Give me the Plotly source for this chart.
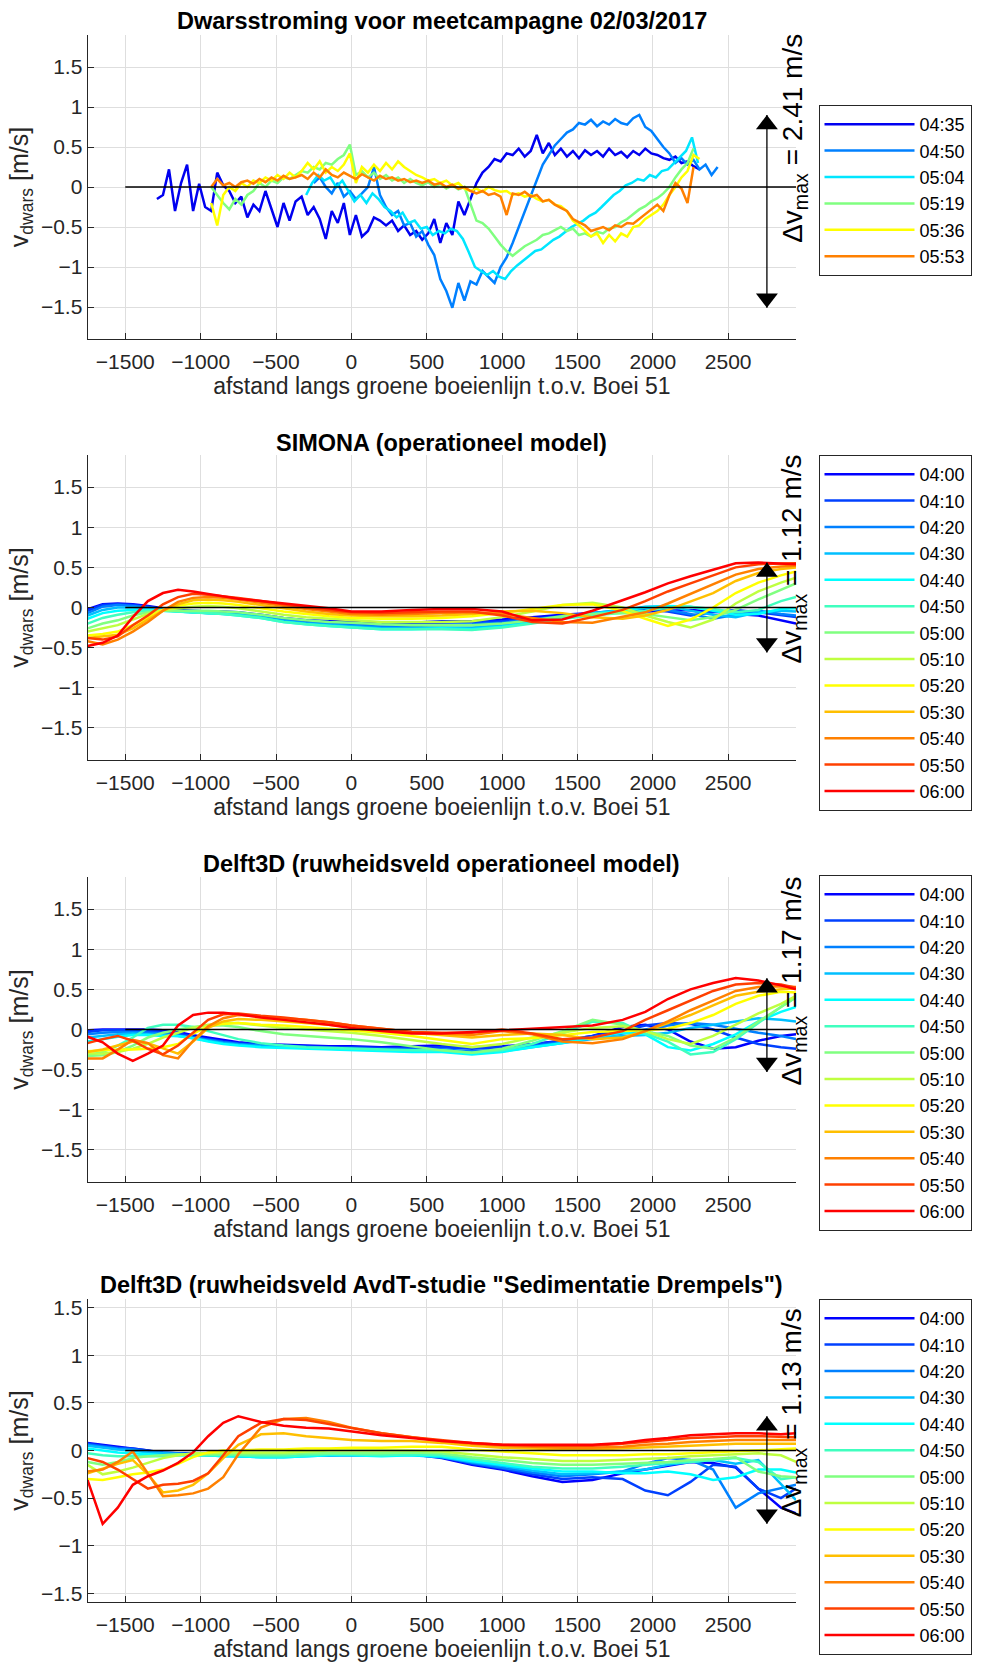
import numpy as np
import plotly.graph_objects as go

FONT = "Liberation Sans, Arial, Helvetica, sans-serif"
W, H = 981, 1663

# ---------------------------------------------------------------- measured data
# ADCP transects of 02/03/2017, one value every 40 m along the green buoy line
meas_times = ["04:35", "04:50", "05:04", "05:19", "05:36", "05:53"]
meas_colors = ["#0000f0", "#0080ff", "#00e6ff", "#80ff80", "#ffff00", "#ff8000"]
meas_x0 = [-1290, -250, -300, -930, -930, -930]
meas_dx = 40

v_0435 = [-0.15, -0.10, 0.22, -0.30, 0.05, 0.28, -0.30, 0.04, -0.25, -0.30,
          0.18, 0.02, -0.05, -0.20, -0.12, -0.38, -0.22, -0.30, -0.05, -0.28,
          -0.50, -0.20, -0.42, -0.18, -0.12, -0.35, -0.25, -0.40, -0.65, -0.30,
          -0.45, -0.20, -0.60, -0.35, -0.62, -0.55, -0.38, -0.42, -0.48, -0.42,
          -0.55, -0.48, -0.60, -0.55, -0.66, -0.58, -0.40, -0.70, -0.45, -0.60,
          -0.18, -0.35, -0.15, 0.05, 0.18, 0.25, 0.35, 0.32, 0.42, 0.40,
          0.48, 0.38, 0.45, 0.65, 0.42, 0.55, 0.40, 0.48, 0.38, 0.45,
          0.36, 0.46, 0.40, 0.45, 0.38, 0.48, 0.40, 0.44, 0.37, 0.45,
          0.40, 0.48, 0.42, 0.40, 0.36, 0.34, 0.38, 0.30, 0.32, 0.26, 0.22]
v_0450 = [0.05, 0.12, 0.00, -0.08, 0.05, -0.12, -0.05, -0.15, -0.08, 0.00,
          0.25, -0.10, -0.25, -0.35, -0.30, -0.48, -0.45, -0.62, -0.55, -0.72,
          -0.85, -1.15, -1.30, -1.51, -1.20, -1.42, -1.18, -1.22, -1.05, -1.12,
          -1.20, -1.00, -0.88, -0.70, -0.50, -0.30, -0.10, 0.10, 0.28, 0.40,
          0.52, 0.60, 0.68, 0.72, 0.80, 0.78, 0.84, 0.76, 0.82, 0.78,
          0.85, 0.80, 0.78, 0.86, 0.90, 0.75, 0.70, 0.60, 0.50, 0.42,
          0.30, 0.36, 0.28, 0.34, 0.22, 0.28, 0.15, 0.25]
v_0504 = [-0.10, 0.05, 0.15, 0.08, 0.12, 0.00, 0.08, -0.05, -0.18, -0.10,
          -0.20, -0.08, -0.15, -0.25, -0.30, -0.38, -0.32, -0.45, -0.42, -0.52,
          -0.50, -0.60, -0.55, -0.58, -0.52, -0.55, -0.65, -0.82, -1.00, -1.05,
          -1.10, -1.05, -1.12, -1.15, -1.05, -0.98, -0.92, -0.86, -0.80, -0.78,
          -0.72, -0.66, -0.62, -0.56, -0.50, -0.46, -0.42, -0.36, -0.32, -0.25,
          -0.18, -0.10, -0.05, 0.02, 0.05, 0.10, 0.08, 0.15, 0.12, 0.20,
          0.22, 0.30, 0.38, 0.45, 0.62, 0.30]
v_0519 = [0.00, -0.10, -0.20, -0.28, -0.15, -0.22, -0.10, -0.05, 0.05, 0.00,
          0.08, 0.05, 0.12, 0.10, 0.15, 0.20, 0.18, 0.25, 0.22, 0.30,
          0.28, 0.35, 0.40, 0.53, 0.15, 0.20, 0.12, 0.18, 0.10, 0.15,
          0.08, 0.12, 0.05, 0.10, 0.05, 0.02, 0.06, 0.00, 0.04, -0.02,
          0.02, -0.03, 0.00, -0.20, -0.42, -0.45, -0.52, -0.62, -0.72, -0.80,
          -0.86, -0.80, -0.74, -0.70, -0.66, -0.60, -0.58, -0.54, -0.50, -0.55,
          -0.52, -0.60, -0.58, -0.62, -0.56, -0.58, -0.52, -0.50, -0.44, -0.40,
          -0.34, -0.28, -0.24, -0.18, -0.14, -0.08, 0.00, 0.12, 0.22, 0.30, 0.48]
v_0536 = [-0.20, -0.48, -0.10, 0.00, -0.05, 0.05, 0.00, 0.08, 0.05, 0.12,
          0.08, 0.15, 0.10, 0.18, 0.12, 0.20, 0.30, 0.22, 0.32, 0.18,
          0.25, 0.20, 0.28, 0.42, 0.05, 0.25, 0.18, 0.28, 0.20, 0.30,
          0.22, 0.32, 0.25, 0.20, 0.15, 0.12, 0.08, 0.10, 0.05, 0.08,
          0.02, 0.05, -0.02, -0.05, -0.02, -0.06, 0.00, -0.04, -0.06, -0.05,
          -0.10, -0.08, -0.12, -0.10, -0.15, -0.18, -0.16, -0.22, -0.24, -0.30,
          -0.42, -0.48, -0.55, -0.62, -0.58, -0.70, -0.60, -0.68, -0.58, -0.62,
          -0.50, -0.48, -0.40, -0.35, -0.30, -0.22, -0.10, 0.00, 0.12, 0.20,
          0.40, 0.35]
v_0553 = [0.00, 0.10, 0.02, 0.05, 0.00, 0.06, 0.08, 0.04, 0.10, 0.06,
          0.12, 0.08, 0.14, 0.10, 0.12, 0.15, 0.10, 0.18, 0.12, 0.22,
          0.15, 0.12, 0.18, 0.14, 0.10, 0.16, 0.12, 0.08, 0.14, 0.10,
          0.12, 0.08, 0.10, 0.06, 0.08, 0.05, 0.08, 0.03, 0.05, 0.00,
          0.03, -0.02, 0.00, -0.05, -0.08, -0.05, -0.10, -0.08, -0.12, -0.35,
          -0.08, -0.10, -0.06, -0.12, -0.10, -0.18, -0.16, -0.22, -0.26, -0.30,
          -0.40, -0.44, -0.48, -0.55, -0.52, -0.50, -0.54, -0.48, -0.50, -0.45,
          -0.46, -0.40, -0.34, -0.28, -0.22, -0.30, -0.10, 0.05, -0.02, -0.20, 0.25]
meas_values = [v_0435, v_0450, v_0504, v_0519, v_0536, v_0553]

# ---------------------------------------------------------------- model data
model_times = ["04:00", "04:10", "04:20", "04:30", "04:40", "04:50", "05:00",
               "05:10", "05:20", "05:30", "05:40", "05:50", "06:00"]
model_colors = ["#0000ff", "#0040ff", "#0080ff", "#00bfff", "#00ffff", "#40ffbf",
                "#80ff80", "#bfff40", "#ffff00", "#ffbf00", "#ff8000", "#ff4000",
                "#ff0000"]
x_model = [-1750, -1650, -1550, -1450, -1350, -1250, -1150, -1050, -950, -850,
           -750, -600, -450, -300, -150, 0, 200, 400, 600, 800,
           1000, 1200, 1400, 1600, 1800, 1950, 2100, 2250, 2400, 2550,
           2700, 2850, 2950]

simona = [
    [-0.02, 0.04, 0.05, 0.04, 0.02, -0.01, -0.03, -0.04, -0.05, -0.05, -0.06, -0.09, -0.13, -0.16, -0.17, -0.18, -0.19, -0.19, -0.17, -0.17, -0.15, -0.12, -0.09, -0.07, -0.05, -0.05, -0.04, -0.03, -0.05, -0.08, -0.10, -0.16, -0.20],
    [-0.04, 0.03, 0.04, 0.03, 0.01, -0.02, -0.04, -0.05, -0.06, -0.06, -0.07, -0.10, -0.14, -0.17, -0.18, -0.20, -0.21, -0.20, -0.19, -0.18, -0.17, -0.14, -0.11, -0.08, -0.04, -0.02, -0.05, -0.10, -0.06, -0.03, -0.06, -0.10, -0.12],
    [-0.07, 0.01, 0.03, 0.02, 0.00, -0.02, -0.04, -0.06, -0.07, -0.07, -0.08, -0.11, -0.16, -0.19, -0.20, -0.22, -0.24, -0.23, -0.22, -0.21, -0.19, -0.15, -0.11, -0.07, -0.03, 0.00, -0.03, -0.08, -0.14, -0.09, -0.04, -0.08, -0.10],
    [-0.10, -0.03, 0.00, 0.00, -0.01, -0.03, -0.05, -0.06, -0.07, -0.08, -0.09, -0.12, -0.17, -0.20, -0.22, -0.24, -0.26, -0.26, -0.25, -0.25, -0.22, -0.17, -0.12, -0.07, -0.03, 0.01, 0.02, -0.04, -0.09, -0.12, -0.06, -0.04, -0.05],
    [-0.14, -0.07, -0.04, -0.03, -0.03, -0.04, -0.05, -0.06, -0.07, -0.08, -0.10, -0.13, -0.18, -0.21, -0.23, -0.25, -0.27, -0.27, -0.26, -0.27, -0.24, -0.19, -0.13, -0.08, -0.04, 0.00, 0.02, 0.01, -0.04, -0.09, -0.08, -0.02, -0.01],
    [-0.20, -0.13, -0.09, -0.06, -0.04, -0.04, -0.05, -0.06, -0.07, -0.08, -0.10, -0.13, -0.18, -0.21, -0.23, -0.25, -0.27, -0.27, -0.27, -0.28, -0.25, -0.20, -0.14, -0.10, -0.07, -0.04, 0.00, 0.01, -0.02, -0.06, -0.03, 0.08, 0.13],
    [-0.26, -0.20, -0.16, -0.10, -0.06, -0.04, -0.04, -0.04, -0.04, -0.05, -0.06, -0.09, -0.13, -0.16, -0.18, -0.19, -0.21, -0.22, -0.22, -0.22, -0.20, -0.16, -0.11, -0.08, -0.07, -0.08, -0.12, -0.16, -0.12, -0.03, 0.10, 0.22, 0.30],
    [-0.30, -0.26, -0.22, -0.15, -0.08, -0.03, -0.01, 0.01, 0.02, 0.01, -0.01, -0.05, -0.09, -0.12, -0.14, -0.16, -0.18, -0.18, -0.18, -0.17, -0.12, -0.05, 0.03, 0.06, 0.00, -0.10, -0.18, -0.25, -0.15, 0.05, 0.20, 0.31, 0.37],
    [-0.35, -0.33, -0.30, -0.22, -0.12, -0.03, 0.02, 0.05, 0.06, 0.05, 0.03, -0.01, -0.05, -0.08, -0.11, -0.13, -0.14, -0.14, -0.13, -0.11, -0.07, -0.02, 0.03, 0.04, -0.04, -0.14, -0.23, -0.15, 0.00, 0.18, 0.31, 0.40, 0.45],
    [-0.38, -0.36, -0.34, -0.26, -0.15, -0.04, 0.04, 0.09, 0.10, 0.09, 0.07, 0.03, -0.01, -0.05, -0.08, -0.10, -0.11, -0.11, -0.10, -0.08, -0.05, -0.04, -0.07, -0.12, -0.14, -0.10, -0.03, 0.08, 0.18, 0.33, 0.43, 0.48, 0.50],
    [-0.42, -0.46, -0.40, -0.30, -0.18, -0.04, 0.07, 0.12, 0.13, 0.12, 0.10, 0.06, 0.02, -0.02, -0.05, -0.08, -0.09, -0.08, -0.07, -0.06, -0.08, -0.13, -0.18, -0.19, -0.12, -0.06, 0.05, 0.17, 0.28, 0.41, 0.48, 0.51, 0.52],
    [-0.38, -0.40, -0.36, -0.22, -0.10, 0.04, 0.13, 0.17, 0.16, 0.14, 0.12, 0.08, 0.04, 0.00, -0.03, -0.06, -0.07, -0.06, -0.05, -0.05, -0.10, -0.18, -0.20, -0.12, -0.03, 0.08, 0.20, 0.30, 0.40, 0.50, 0.54, 0.55, 0.55],
    [-0.48, -0.44, -0.35, -0.12, 0.08, 0.18, 0.22, 0.20, 0.17, 0.14, 0.11, 0.08, 0.05, 0.02, -0.01, -0.05, -0.05, -0.03, -0.02, -0.02, -0.05, -0.16, -0.15, -0.04, 0.09, 0.19, 0.30, 0.39, 0.47, 0.55, 0.56, 0.55, 0.54],
]

delft_op = [
    [-0.01, 0.00, 0.00, 0.00, 0.00, -0.01, -0.03, -0.07, -0.10, -0.13, -0.16, -0.18, -0.19, -0.20, -0.21, -0.21, -0.22, -0.21, -0.20, -0.22, -0.21, -0.18, -0.14, -0.08, 0.03, 0.06, 0.00, -0.15, -0.24, -0.22, -0.14, -0.08, -0.06],
    [-0.03, -0.01, -0.01, -0.01, -0.02, -0.03, -0.05, -0.09, -0.12, -0.15, -0.17, -0.19, -0.20, -0.21, -0.22, -0.22, -0.23, -0.23, -0.22, -0.24, -0.22, -0.19, -0.14, -0.08, -0.02, 0.05, 0.08, 0.07, 0.00, -0.10, -0.18, -0.22, -0.24],
    [-0.06, -0.04, -0.03, -0.03, -0.04, -0.05, -0.07, -0.10, -0.13, -0.16, -0.18, -0.20, -0.21, -0.22, -0.23, -0.24, -0.25, -0.25, -0.25, -0.27, -0.25, -0.21, -0.16, -0.10, -0.05, 0.00, 0.05, 0.08, 0.06, 0.01, -0.04, -0.08, -0.12],
    [-0.10, -0.08, -0.06, -0.05, -0.06, -0.07, -0.08, -0.11, -0.14, -0.17, -0.19, -0.21, -0.22, -0.23, -0.24, -0.25, -0.26, -0.27, -0.27, -0.30, -0.27, -0.22, -0.17, -0.12, -0.08, -0.07, -0.04, 0.02, 0.06, 0.10, 0.14, 0.12, 0.10],
    [-0.15, -0.12, -0.09, -0.07, -0.07, -0.08, -0.08, -0.11, -0.15, -0.18, -0.20, -0.22, -0.23, -0.24, -0.25, -0.26, -0.27, -0.28, -0.28, -0.31, -0.28, -0.22, -0.17, -0.10, -0.04, -0.06, -0.22, -0.26, -0.18, -0.06, 0.10, 0.22, 0.28],
    [-0.32, -0.28, -0.20, -0.10, 0.02, 0.06, 0.06, 0.03, -0.02, -0.07, -0.12, -0.17, -0.20, -0.22, -0.23, -0.24, -0.25, -0.26, -0.26, -0.29, -0.26, -0.18, -0.05, 0.10, 0.08, -0.05, -0.15, -0.31, -0.28, -0.12, 0.08, 0.28, 0.40],
    [-0.33, -0.32, -0.28, -0.20, -0.10, -0.04, 0.00, 0.03, 0.05, 0.05, 0.03, -0.02, -0.06, -0.08, -0.10, -0.12, -0.16, -0.21, -0.26, -0.29, -0.24, -0.14, -0.02, 0.12, 0.06, -0.02, -0.08, -0.20, -0.24, -0.10, 0.10, 0.28, 0.40],
    [-0.30, -0.30, -0.28, -0.24, -0.18, -0.10, -0.04, 0.02, 0.06, 0.08, 0.08, 0.05, 0.02, 0.00, -0.02, -0.04, -0.08, -0.13, -0.18, -0.22, -0.18, -0.10, -0.04, 0.02, 0.04, -0.02, -0.12, -0.18, -0.08, 0.06, 0.20, 0.32, 0.42],
    [-0.27, -0.26, -0.25, -0.25, -0.24, -0.22, -0.18, -0.05, 0.04, 0.07, 0.08, 0.06, 0.05, 0.03, 0.01, -0.01, -0.04, -0.08, -0.13, -0.18, -0.12, -0.11, -0.07, -0.03, -0.02, -0.01, 0.01, 0.08, 0.18, 0.32, 0.42, 0.47, 0.46],
    [-0.28, -0.25, -0.20, -0.15, -0.17, -0.24, -0.30, -0.15, 0.02, 0.10, 0.13, 0.12, 0.10, 0.08, 0.06, 0.03, -0.01, -0.04, -0.07, -0.10, -0.07, -0.05, -0.07, -0.12, -0.10, -0.02, 0.08, 0.18, 0.30, 0.42, 0.47, 0.50, 0.51],
    [-0.36, -0.36, -0.25, -0.13, -0.17, -0.32, -0.36, -0.14, 0.04, 0.14, 0.18, 0.16, 0.14, 0.12, 0.09, 0.05, 0.01, -0.03, -0.05, -0.07, -0.02, -0.06, -0.15, -0.17, -0.12, -0.02, 0.10, 0.24, 0.36, 0.48, 0.53, 0.54, 0.53],
    [-0.17, -0.12, -0.08, -0.14, -0.24, -0.31, -0.20, -0.04, 0.12, 0.19, 0.20, 0.17, 0.15, 0.12, 0.09, 0.05, 0.01, -0.03, -0.04, -0.04, 0.00, -0.05, -0.12, -0.10, -0.02, 0.12, 0.24, 0.36, 0.48, 0.56, 0.58, 0.56, 0.52],
    [-0.09, -0.16, -0.30, -0.39, -0.30, -0.20, 0.05, 0.18, 0.21, 0.21, 0.19, 0.15, 0.12, 0.09, 0.06, 0.02, -0.02, -0.05, -0.05, -0.03, -0.01, 0.01, 0.03, 0.05, 0.12, 0.22, 0.38, 0.50, 0.58, 0.64, 0.61, 0.55, 0.50],
]

delft_avdt = [
    [0.08, 0.06, 0.04, 0.02, 0.00, -0.03, -0.04, -0.03, -0.04, -0.05, -0.05, -0.06, -0.06, -0.05, -0.05, -0.05, -0.05, -0.04, -0.08, -0.15, -0.20, -0.27, -0.33, -0.31, -0.24, -0.20, -0.16, -0.12, -0.13, -0.18, -0.40, -0.60, -0.66],
    [0.07, 0.05, 0.03, 0.02, 0.00, -0.02, -0.03, -0.03, -0.04, -0.05, -0.05, -0.06, -0.06, -0.05, -0.05, -0.04, -0.05, -0.04, -0.07, -0.14, -0.19, -0.25, -0.30, -0.28, -0.30, -0.42, -0.47, -0.33, -0.15, -0.17, -0.40, -0.50, -0.40],
    [0.06, 0.04, 0.02, 0.01, -0.01, -0.02, -0.03, -0.04, -0.05, -0.05, -0.06, -0.06, -0.06, -0.05, -0.05, -0.04, -0.05, -0.04, -0.06, -0.13, -0.18, -0.23, -0.27, -0.25, -0.22, -0.14, -0.08, -0.10, -0.20, -0.60, -0.45, -0.40, -0.36],
    [0.05, 0.03, 0.01, 0.00, -0.02, -0.03, -0.04, -0.05, -0.05, -0.06, -0.06, -0.07, -0.07, -0.06, -0.05, -0.05, -0.05, -0.05, -0.07, -0.12, -0.16, -0.21, -0.25, -0.24, -0.22, -0.20, -0.15, -0.12, -0.10, -0.14, -0.10, -0.35, -0.52],
    [0.02, 0.00, -0.02, -0.03, -0.04, -0.05, -0.05, -0.05, -0.05, -0.06, -0.06, -0.07, -0.07, -0.06, -0.05, -0.05, -0.06, -0.05, -0.06, -0.11, -0.15, -0.19, -0.22, -0.22, -0.24, -0.24, -0.22, -0.25, -0.31, -0.28, -0.20, -0.20, -0.23],
    [-0.03, -0.05, -0.06, -0.06, -0.06, -0.06, -0.05, -0.05, -0.05, -0.05, -0.05, -0.06, -0.06, -0.05, -0.04, -0.04, -0.05, -0.04, -0.05, -0.09, -0.13, -0.17, -0.19, -0.19, -0.17, -0.15, -0.13, -0.12, -0.10, -0.08, -0.12, -0.30, -0.28],
    [-0.12, -0.15, -0.12, -0.08, -0.06, -0.05, -0.04, -0.04, -0.04, -0.04, -0.04, -0.04, -0.04, -0.03, -0.03, -0.03, -0.03, -0.02, -0.03, -0.07, -0.10, -0.13, -0.15, -0.15, -0.14, -0.13, -0.12, -0.10, -0.09, -0.07, -0.22, -0.27, -0.28],
    [-0.15, -0.25, -0.22, -0.18, -0.13, -0.08, -0.05, -0.03, -0.03, -0.02, -0.02, -0.02, -0.02, -0.01, 0.00, 0.00, 0.00, 0.00, -0.01, -0.04, -0.07, -0.09, -0.11, -0.11, -0.10, -0.09, -0.08, -0.06, -0.05, -0.04, -0.03, -0.05, -0.12],
    [-0.30, -0.31, -0.28, -0.25, -0.23, -0.20, -0.14, -0.07, -0.02, 0.00, 0.00, 0.01, 0.01, 0.02, 0.02, 0.03, 0.03, 0.04, 0.04, 0.01, -0.01, -0.03, -0.05, -0.05, -0.05, -0.04, -0.04, -0.03, -0.02, -0.01, 0.00, 0.01, 0.02],
    [-0.24, -0.19, -0.14, -0.10, -0.25, -0.44, -0.42, -0.36, -0.24, -0.08, 0.06, 0.17, 0.18, 0.15, 0.13, 0.11, 0.10, 0.10, 0.08, 0.05, 0.03, 0.02, 0.01, 0.01, 0.02, 0.03, 0.04, 0.05, 0.06, 0.07, 0.07, 0.07, 0.07],
    [-0.22, -0.20, -0.12, -0.01, -0.24, -0.48, -0.47, -0.45, -0.40, -0.28, -0.04, 0.24, 0.33, 0.34, 0.30, 0.24, 0.18, 0.14, 0.10, 0.07, 0.05, 0.04, 0.03, 0.03, 0.04, 0.06, 0.07, 0.09, 0.10, 0.11, 0.11, 0.11, 0.11],
    [-0.08, -0.12, -0.20, -0.30, -0.40, -0.36, -0.35, -0.32, -0.24, -0.05, 0.15, 0.29, 0.33, 0.32, 0.28, 0.24, 0.18, 0.14, 0.11, 0.08, 0.06, 0.05, 0.05, 0.05, 0.07, 0.09, 0.11, 0.13, 0.14, 0.15, 0.15, 0.14, 0.14],
    [-0.31, -0.77, -0.60, -0.36, -0.27, -0.21, -0.13, -0.02, 0.15, 0.29, 0.36, 0.30, 0.26, 0.24, 0.23, 0.20, 0.16, 0.13, 0.10, 0.08, 0.06, 0.06, 0.06, 0.06, 0.08, 0.11, 0.13, 0.16, 0.17, 0.18, 0.18, 0.17, 0.18],
]

for block in (simona, delft_op, delft_avdt):
    assert all(len(row) == len(x_model) for row in block)

panel_titles = [
    "Dwarsstroming voor meetcampagne 02/03/2017",
    "SIMONA (operationeel model)",
    "Delft3D (ruwheidsveld operationeel model)",
    'Delft3D (ruwheidsveld AvdT-studie "Sedimentatie Drempels")',
]
dv_max = [2.41, 1.12, 1.17, 1.13]
y_ranges = [[-1.9, 1.9], [-1.9, 1.9], [-1.9, 1.9], [-1.59, 1.59]]
x_range = [-1750, 2950]
x_ticks = [-1500, -1000, -500, 0, 500, 1000, 1500, 2000, 2500]
y_ticks = [-1.5, -1, -0.5, 0, 0.5, 1, 1.5]
x_zero = [-1500, 2950]
arrow_x = 2757
dv_text_x = 2935
dv_text_y0 = -0.72

# ---------------------------------------------------------------- layout geometry (px)
plot_left, plot_right = 87.6, 796.0
plot_rows = [(35, 339), (455, 760), (877, 1182), (1299, 1602)]
title_rows = [21, 443, 864, 1285]
legend_tops = [105, 455, 875, 1299]
legend_left = 818.5
head_size = 19

fig = go.Figure()


def ax_name(i, kind):
    return kind if i == 0 else f"{kind}{i + 1}"


for p in range(4):
    xa, ya = ax_name(p, "x"), ax_name(p, "y")
    leg = "legend" if p == 0 else f"legend{p + 1}"
    if p == 0:
        series = []
        for t, c, x0, v in zip(meas_times, meas_colors, meas_x0, meas_values):
            xs = x0 + meas_dx * np.arange(len(v))
            series.append((t, c, xs, v))
    else:
        block = [simona, delft_op, delft_avdt][p - 1]
        series = [(t, c, x_model, v) for t, c, v in zip(model_times, model_colors, block)]

    for t, c, xs, v in series:
        fig.add_trace(go.Scatter(
            x=list(xs), y=v, mode="lines", name=t,
            line=dict(color=c, width=2.5),
            xaxis=xa, yaxis=ya, legend=leg,
        ))
    # zero reference line
    fig.add_trace(go.Scatter(
        x=x_zero, y=[0, 0], mode="lines", line=dict(color="black", width=1.3),
        xaxis=xa, yaxis=ya, showlegend=False, hoverinfo="skip",
    ))

    # double-headed arrow spanning the largest velocity difference
    top = max(max(s[3]) for s in series)
    bottom = top - dv_max[p]
    fig.add_trace(go.Scatter(
        x=[arrow_x, arrow_x], y=[top, bottom], mode="lines+markers",
        line=dict(color="black", width=1.3),
        marker=dict(symbol="triangle-up", size=head_size, color="black",
                    angle=[0, 180], standoff=head_size / 2),
        xaxis=xa, yaxis=ya, showlegend=False, hoverinfo="skip",
    ))
    fig.add_annotation(
        x=dv_text_x, y=dv_text_y0, xref=xa, yref=ya, showarrow=False,
        text=f"\u0394v<sub>max</sub> = {dv_max[p]:.2f} m/s", textangle=-90,
        xanchor="center", yanchor="bottom",
        font=dict(family=FONT, size=28, color="black"),
    )
    fig.add_annotation(
        x=(plot_left + plot_right) / 2 / W, y=1 - title_rows[p] / H,
        xref="paper", yref="paper", showarrow=False,
        text=f"<b>{panel_titles[p]}</b>", xanchor="center", yanchor="middle",
        font=dict(family=FONT, size=23.5, color="black"),
    )

    y0, y1 = plot_rows[p]
    axis_common = dict(
        showgrid=True, gridcolor="#dedede", gridwidth=1.2, zeroline=False,
        showline=True, linecolor="#262626", linewidth=1, ticks="inside",
        ticklen=6, tickcolor="#262626", automargin=False,
        tickfont=dict(family=FONT, size=21, color="#262626"),
    )
    fig.layout[("xaxis" if p == 0 else f"xaxis{p + 1}")] = dict(
        axis_common, domain=[plot_left / W, plot_right / W], anchor=ya,
        range=x_range, tickvals=x_ticks, ticklabelstandoff=4,
        title=dict(text="afstand langs groene boeienlijn t.o.v. Boei 51",
                   font=dict(family=FONT, size=23, color="#262626"), standoff=5),
    )
    fig.layout[("yaxis" if p == 0 else f"yaxis{p + 1}")] = dict(
        axis_common, domain=[1 - y1 / H, 1 - y0 / H], anchor=xa,
        range=y_ranges[p], tickvals=y_ticks, ticklabelstandoff=0,
        title=dict(text="v<sub>dwars</sub> [m/s]",
                   font=dict(family=FONT, size=25, color="#262626"), standoff=5),
    )
    fig.layout[leg] = dict(
        x=legend_left / W, xanchor="left", y=1 - legend_tops[p] / H, yanchor="top",
        bgcolor="white", bordercolor="#262626", borderwidth=1,
        font=dict(family=FONT, size=18, color="black"), itemwidth=90,
        tracegroupgap=0,
    )

fig.update_layout(
    width=W, height=H, margin=dict(l=0, r=0, t=0, b=0), autosize=False,
    paper_bgcolor="white", plot_bgcolor="white", showlegend=True,
    font=dict(family=FONT),
)

fig.write_html("out.html")
